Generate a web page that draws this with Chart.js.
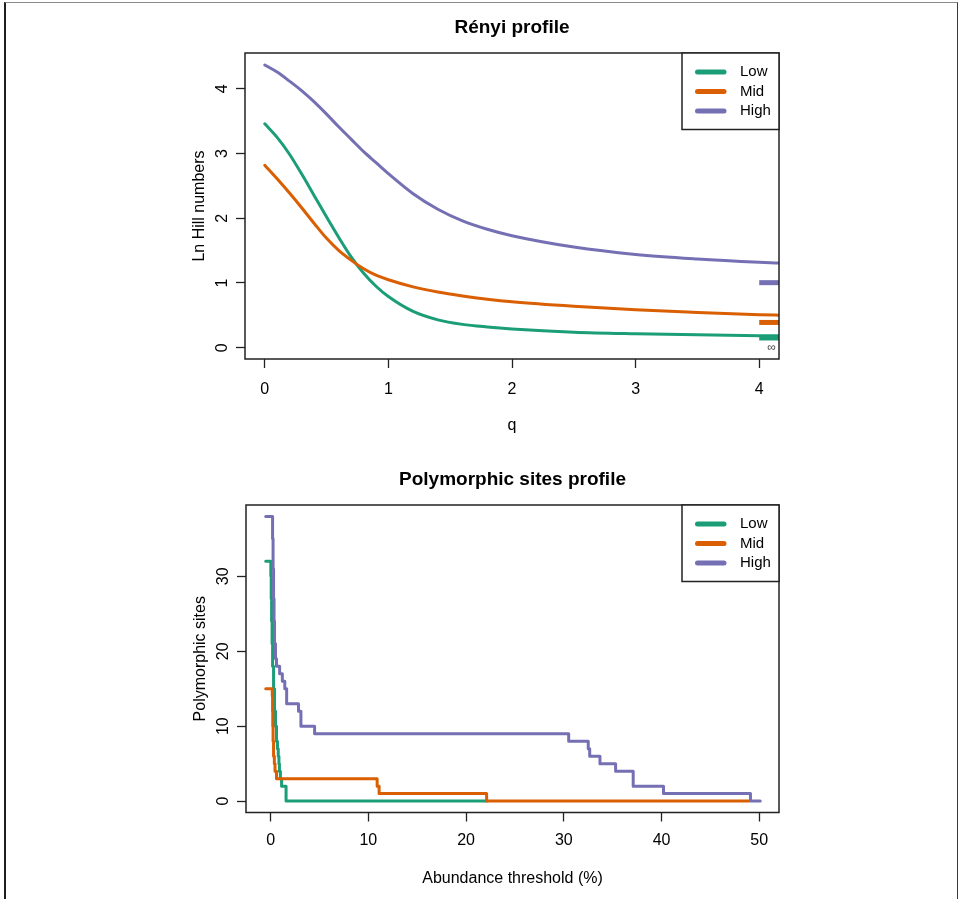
<!DOCTYPE html>
<html>
<head>
<meta charset="utf-8">
<script src="https://cdn.jsdelivr.net/npm/chart.js@4.4.1/dist/chart.umd.min.js"></script>
<style>
  html, body { margin: 0; padding: 0; background: #fff; }
  #page { position: relative; width: 962px; height: 899px; overflow: hidden; }
  #frame { position: absolute; left: 4px; top: 2px; width: 954px; height: 910px; box-sizing: border-box;
           border-left: 2px solid #1e1e1e; border-top: 1px solid #8a8a8a; border-right: 1px solid #3a3a3a; }
  canvas { position: absolute; left: 0; }
  #renyi { top: 0; width: 962px; height: 450px; }
  #poly { top: 450px; width: 962px; height: 449px; }
</style>
</head>
<body>
<div id="page">
  <canvas id="renyi" width="962" height="450"></canvas>
  <canvas id="poly" width="962" height="449"></canvas>
  <div id="frame"></div>
</div>
<script>
const groups = ['Low', 'Mid', 'High'];
const groupColors = ['#1B9E77', '#D95F02', '#7570B3'];

// Renyi profile: ln Hill numbers by order q
const qValues  = [0, 0.1, 0.2, 0.3, 0.4, 0.5, 0.6, 0.7, 0.8, 0.9, 1.0, 1.2, 1.4, 1.6, 1.8, 2.0, 2.5, 3.0, 3.5, 4.0, 4.2];
const hillLow  = [3.46, 3.25, 2.99, 2.68, 2.35, 2.02, 1.70, 1.40, 1.15, 0.95, 0.79, 0.56, 0.43, 0.36, 0.32, 0.29, 0.24, 0.215, 0.198, 0.186, 0.183];
const hillMid  = [2.82, 2.61, 2.39, 2.16, 1.92, 1.69, 1.50, 1.35, 1.22, 1.12, 1.05, 0.94, 0.86, 0.80, 0.75, 0.71, 0.64, 0.585, 0.545, 0.51, 0.50];
const hillHigh = [4.37, 4.26, 4.12, 3.97, 3.80, 3.61, 3.41, 3.22, 3.03, 2.86, 2.69, 2.38, 2.14, 1.96, 1.83, 1.73, 1.555, 1.44, 1.37, 1.32, 1.305];
const hillInf  = [0.15, 0.39, 1.005];   // q = infinity, Low / Mid / High
const qTicks = [0, 1, 2, 3, 4];
const hillTicks = [0, 1, 2, 3, 4];

// Polymorphic sites left at each abundance threshold (%)
const lowThreshold  = [-0.5, 0.02, 0.06, 0.1, 0.15, 0.2, 0.3, 0.4, 0.5, 0.6, 0.7, 0.78, 0.85, 0.9, 1.0, 1.12, 1.58, 22.1];
const lowSites      = [32, 30, 27, 24, 21, 18, 15, 12, 10, 8, 7, 6, 5, 4, 3, 2, 0, 0];
const midThreshold  = [-0.5, 0.17, 0.2, 0.22, 0.25, 0.3, 0.38, 0.45, 0.6, 10.9, 11.1, 22.1, 48.9];
const midSites      = [15, 14, 12, 10, 8, 6, 5, 4, 3, 2, 1, 0, 0];
const highThreshold = [-0.5, 0.2, 0.25, 0.3, 0.35, 0.4, 0.5, 0.6, 0.92, 1.2, 1.45, 1.64, 2.85, 3.1, 4.5, 30.5, 32.5, 32.65, 33.7, 35.3, 37.1, 40.2, 49.1, 50.1];
const highSites     = [38, 35, 31, 27, 24, 21, 19, 18, 17, 16, 15, 13, 12, 10, 9, 8, 7, 6, 5, 4, 2, 1, 0, 0];
const thresholdTicks = [0, 10, 20, 30, 40, 50];
const sitesTicks = [0, 10, 20, 30];

Chart.defaults.font.family = '"Liberation Sans", Arial, sans-serif';
Chart.defaults.color = '#000';

const zip = (xs, ys) => xs.map((x, i) => ({x: x, y: ys[i]}));

// box round the plot area, legend in the top right corner, optional infinity mark
const rFrame = {
  id: 'rFrame',
  afterDatasetsDraw(chart, args, opts) {
    const ctx = chart.ctx, a = chart.chartArea;
    ctx.save();
    ctx.strokeStyle = '#222';
    ctx.lineWidth = 1.5;
    ctx.strokeRect(a.left, a.top, a.right - a.left, a.bottom - a.top);

    const w = 97, h = 76.5, x0 = a.right - w, y0 = a.top;
    ctx.fillStyle = '#fff';
    ctx.fillRect(x0, y0, w, h);
    ctx.strokeRect(x0, y0, w, h);
    ctx.font = '15px "Liberation Sans", Arial, sans-serif';
    ctx.textBaseline = 'middle';
    groups.forEach((g, i) => {
      const y = y0 + 19 + i * 19.5;
      ctx.strokeStyle = groupColors[i];
      ctx.lineWidth = 5;
      ctx.lineCap = 'round';
      ctx.beginPath();
      ctx.moveTo(x0 + 15.5, y);
      ctx.lineTo(x0 + 42, y);
      ctx.stroke();
      ctx.fillStyle = '#000';
      ctx.fillText(g, x0 + 58, y);
    });

    if (opts.infinityAt) {
      const sx = chart.scales.x, sy = chart.scales.y;
      ctx.font = '12px "Liberation Sans", Arial, sans-serif';
      ctx.fillStyle = '#444';
      ctx.textAlign = 'center';
      ctx.fillText('\u221E', sx.getPixelForValue(opts.infinityAt[0]), sy.getPixelForValue(opts.infinityAt[1]));
    }
    ctx.restore();
  }
};

function axis(ticks, min, max, extra) {
  return Object.assign({
    type: 'linear',
    min: min,
    max: max,
    afterBuildTicks: s => { s.ticks = ticks.map(v => ({value: v})); },
    border: {display: false},
    grid: {drawOnChartArea: false, drawTicks: true, tickLength: 9, tickWidth: 1.3, tickColor: '#222'}
  }, extra);
}

function rChart(id, cfg) {
  return new Chart(document.getElementById(id), {
    type: 'line',
    data: {datasets: cfg.datasets},
    options: {
      responsive: false,
      animation: false,
      events: [],
      layout: {padding: cfg.padding},
      elements: {point: {radius: 0}},
      scales: {
        x: axis(cfg.xTicks, cfg.xRange[0], cfg.xRange[1], {
          afterFit: s => { s.height = 80; },
          ticks: {padding: cfg.xTickPad, maxRotation: 0, autoSkip: false, font: {size: 16}, color: '#000'},
          title: {display: true, text: cfg.xLabel, font: {size: 16}, color: '#000', padding: {bottom: 4}}
        }),
        y: axis(cfg.yTicks, cfg.yRange[0], cfg.yRange[1], {
          afterFit: s => { s.width = 60; },
          ticks: {padding: cfg.yTickPad, minRotation: 90, maxRotation: 90, crossAlign: 'center', autoSkip: false,
                  font: {size: 16}, color: '#000'},
          title: {display: true, text: cfg.yLabel, font: {size: 16}, color: '#000', padding: {top: 4.5}}
        })
      },
      plugins: {
        legend: {display: false},
        tooltip: {enabled: false},
        title: {display: true, fullSize: false, text: cfg.title, font: {size: 19, weight: 'bold'}, color: '#000',
                padding: {top: cfg.titleTop, bottom: 13.6}},
        rFrame: cfg.frame || {}
      }
    },
    plugins: [rFrame]
  });
}

function lineSet(label, i, data, extra) {
  return Object.assign({
    label: label,
    data: data,
    borderColor: groupColors[i],
    borderWidth: 3,
    borderCapStyle: 'round',
    borderJoinStyle: 'round',
    fill: false,
    clip: 0,
    order: groups.length - i
  }, extra);
}

const hillSeries = [hillLow, hillMid, hillHigh];
const renyiSets = groups.map((g, i) => lineSet(g, i, zip(qValues, hillSeries[i]), {cubicInterpolationMode: 'monotone'}));
const qMax = qTicks[qTicks.length - 1];
const qRange = [-0.16, 4.16];
groups.forEach((g, i) => {
  renyiSets.push(lineSet(g + ' (q = \u221E)', i, [{x: qMax, y: hillInf[i]}, {x: qRange[1], y: hillInf[i]}],
    {borderWidth: 5, borderCapStyle: 'butt', order: 0}));
});

rChart('renyi', {
  title: 'Rényi profile',
  titleTop: 16.6,
  padding: {left: 185, right: 183, top: 0, bottom: 11},
  datasets: renyiSets,
  xTicks: qTicks, xRange: qRange, xLabel: 'q', xTickPad: 12,
  yTicks: hillTicks, yRange: [-0.175, 4.555], yLabel: 'Ln Hill numbers', yTickPad: 8.5,
  frame: {infinityAt: [4.1, 0]}
});

const stepData = [zip(lowThreshold, lowSites), zip(midThreshold, midSites), zip(highThreshold, highSites)];
rChart('poly', {
  title: 'Polymorphic sites profile',
  titleTop: 18.6,
  padding: {left: 186, right: 183, top: 0, bottom: 6.5},
  datasets: groups.map((g, i) => lineSet(g, i, stepData[i], {stepped: 'before'})),
  xTicks: thresholdTicks, xRange: [-2.52, 52.02], xLabel: 'Abundance threshold (%)', xTickPad: 9,
  yTicks: sitesTicks, yRange: [-1.52, 39.52], yLabel: 'Polymorphic sites', yTickPad: 4.5
});
</script>
</body>
</html>
